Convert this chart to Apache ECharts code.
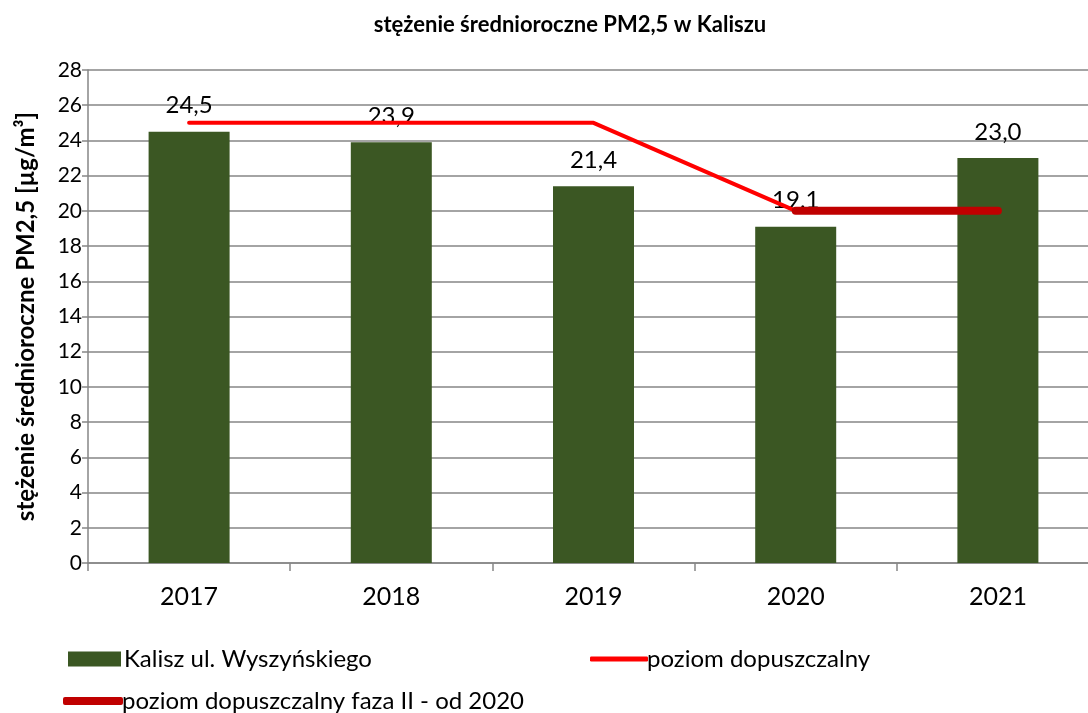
<!doctype html>
<html>
<head>
    <meta http-equiv="Content-Type" content="text/html; charset=utf-8" />
    <title>PM2,5 Kalisz</title>
    <script src="https://cdn.jsdelivr.net/npm/echarts@6/dist/echarts.min.js"></script>
    <style>
        html, body { margin: 0; padding: 0; background: #fff; overflow: hidden; }
        #main { width: 1110px; height: 713px; }
    </style>
</head>
<body>
<div id="main"></div>
<script type="text/javascript">
    // dane
    var lata = ['2017', '2018', '2019', '2020', '2021'];
    var stezenie = [24.5, 23.9, 21.4, 19.1, 23.0];
    var poziomDop = [25, 25, 25, 20, null];
    var poziomFaza2 = [null, null, null, 20, 20];
    var yTicks = [0, 28, 2];

    var font = 'Lato, "Open Sans", sans-serif';
    // wykres jest szerszy niz okno - prawa krawedz osi wychodzi poza obraz jak w oryginale
    var myChart = echarts.init(document.getElementById('main'));

    var option = {
        backgroundColor: '#fff',
        textStyle: { fontFamily: font },
        title: {
            text: 'stężenie średnioroczne PM2,5 w Kaliszu',
            left: 565,
            top: 9,
            textAlign: 'center',
            textStyle: { fontFamily: font, fontSize: 22, fontWeight: 'bold', color: '#000' }
        },
        legend: [{
            data: ['Kalisz ul. Wyszyńskiego'],
            left: 63, top: 642,
            itemWidth: 53, itemHeight: 15, itemGap: 4,
            icon: 'rect',
            textStyle: { fontSize: 24, color: '#000', fontFamily: font, padding: [0, 0, 0, -2] }
        }, {
            data: ['poziom dopuszczalny'],
            left: 585, top: 642,
            itemWidth: 58, itemHeight: 5,
            icon: 'roundRect',
            textStyle: { fontSize: 24, color: '#000', fontFamily: font, padding: [0, 0, 0, -6] }
        }, {
            data: ['poziom dopuszczalny faza II - od 2020'],
            left: 58, top: 684,
            itemWidth: 60, itemHeight: 8,
            icon: 'roundRect',
            textStyle: { fontSize: 24, color: '#000', fontFamily: font, padding: [0, 0, 0, -6] }
        }],
        grid: { left: 88, right: 11, top: 70, bottom: 150 },
        xAxis: {
            type: 'category',
            data: lata,
            axisLine: { lineStyle: { color: '#868686', width: 1.5 } },
            axisTick: { show: true, length: 8, lineStyle: { color: '#868686', width: 1.5 } },
            axisLabel: { fontSize: 25, color: '#000', margin: 21, fontFamily: font }
        },
        yAxis: {
            type: 'value',
            min: yTicks[0], max: yTicks[1], interval: yTicks[2],
            name: 'stężenie średnioroczne PM2,5 [µg/m³]',
            nameLocation: 'middle',
            nameGap: 50,
            nameTextStyle: { fontSize: 24, fontWeight: 'bold', color: '#000', fontFamily: font },
            axisLine: { show: true, lineStyle: { color: '#868686', width: 1.5 } },
            axisTick: { show: true, length: 6, lineStyle: { color: '#868686', width: 1.5 } },
            axisLabel: { fontSize: 21, color: '#000', margin: 6, fontFamily: font },
            splitLine: { lineStyle: { color: '#868686', width: 1.5 } }
        },
        series: [{
            name: 'Kalisz ul. Wyszyńskiego',
            type: 'bar',
            data: stezenie,
            barWidth: 81,
            itemStyle: { color: '#3B5723' },
            label: {
                show: true,
                position: 'top',
                distance: 14,
                fontSize: 24,
                color: '#000',
                fontFamily: font,
                formatter: function (p) { return p.value.toFixed(1).replace('.', ','); }
            },
            z: 2
        }, {
            name: 'poziom dopuszczalny',
            type: 'line',
            data: poziomDop,
            symbol: 'none',
            lineStyle: { color: '#FF0000', width: 4, cap: 'round' },
            itemStyle: { color: '#FF0000' },
            z: 3
        }, {
            name: 'poziom dopuszczalny faza II - od 2020',
            type: 'line',
            data: poziomFaza2,
            symbol: 'none',
            lineStyle: { color: '#C00000', width: 8, cap: 'round' },
            itemStyle: { color: '#C00000' },
            z: 4
        }]
    };
    myChart.setOption(option);
</script>
</body>
</html>
